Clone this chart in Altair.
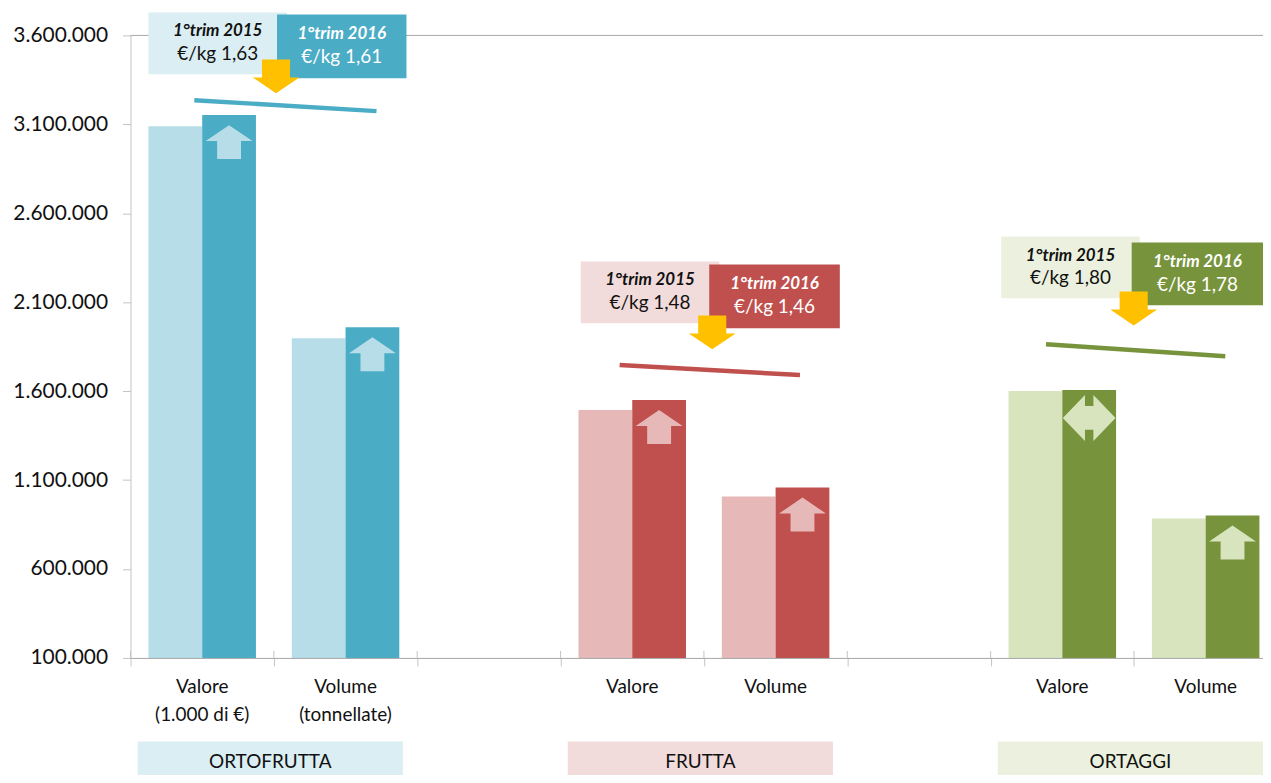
import altair as alt
import pandas as pd

# ---------------- data ----------------
measures = ["Valore", "Volume", "Valore", "Volume", "Valore", "Volume"]
measure_sub = ["(1.000 di €)", "(tonnellate)", "", "", "", ""]
groups = ["ORTOFRUTTA", "ORTOFRUTTA", "FRUTTA", "FRUTTA", "ORTAGGI", "ORTAGGI"]
slot_index = [0, 1, 3, 4, 6, 7]
values_2015 = [3090000, 1898000, 1494000, 1007000, 1601000, 884000]
values_2016 = [3152000, 1959000, 1550000, 1058000, 1606000, 901000]
change_2016 = ["up", "up", "up", "up", "stable", "up"]

group_names = ["ORTOFRUTTA", "FRUTTA", "ORTAGGI"]
group_first_slot = [0, 3, 6]
price_2015 = ["1,63", "1,48", "1,80"]
price_2016 = ["1,61", "1,46", "1,78"]

y_ticks = [100000, 600000, 1100000, 1600000, 2100000, 2600000, 3100000, 3600000]
y_tick_labels = ["100.000", "600.000", "1.100.000", "1.600.000", "2.100.000",
                 "2.600.000", "3.100.000", "3.600.000"]
x_boundaries = [0, 1, 2, 3, 4, 5, 6, 7]

# annotation placement (data units: x in category slots, y in axis units)
price_box_2015 = {"x0": [0.125, 3.141, 6.074], "x1": [1.091, 4.107, 7.040],
                  "y0": [3381600, 1981600, 2121600], "y1": [3728800, 2328800, 2468800]}
price_box_2016 = {"x0": [1.022, 4.037, 6.984], "x1": [1.925, 4.948, 7.901],
                  "y0": [3359200, 1953600, 2082400], "y1": [3717600, 2312000, 2435200]}
down_arrow_pos = {"x": [1.015, 4.058, 6.998], "y": [3370400, 1931200, 2065600]}
trend_line = {"x0": [0.445, 3.412, 6.386], "x1": [1.716, 4.670, 7.637],
              "y0": [3236000, 1746400, 1864000], "y1": [3174400, 1690400, 1796800]}

# ---------------- styles ----------------
dark = {"ORTOFRUTTA": "#4BACC6", "FRUTTA": "#C0504D", "ORTAGGI": "#77933C"}
light = {"ORTOFRUTTA": "#B7DEE8", "FRUTTA": "#E6B9B8", "ORTAGGI": "#D7E4BD"}
pale = {"ORTOFRUTTA": "#DAEEF3", "FRUTTA": "#F2DCDB", "ORTAGGI": "#EBF1DE"}
FONT = "Lato"
AXIS_GRAY = "#A6A6A6"
LIGHT_GRAY = "#C4C4C4"
TXT = "#111111"

W, H = 1137, 625
XMAX = 7.9

xs = alt.Scale(domain=[0, XMAX], nice=False, zero=False)
ys = alt.Scale(domain=[100000, 3600000], nice=False, zero=False)

# ---------------- tables ----------------
rows = []
for m, g, s, a, b in zip(measures, groups, slot_index, values_2015, values_2016):
    rows.append(dict(measure=m, group=g, slot=s, year="2015", value=a))
    rows.append(dict(measure=m, group=g, slot=s, year="2016", value=b))
bars_df = pd.DataFrame(rows)

keys, key_colors = [], []
for g in group_names:
    keys += [g + "|2015", g + "|2016"]
    key_colors += [light[g], dark[g]]

arrows_df = pd.DataFrame(dict(group=groups, slot=slot_index, value=values_2016, change=change_2016))
cat_df = pd.DataFrame(dict(slot=slot_index,
                           label=[m + ("\n" + s if s else "") for m, s in zip(measures, measure_sub)]))

price_rows = []
for i, g in enumerate(group_names):
    price_rows.append(dict(group=g, year="2015", key=g + "|2015p",
                           x0=price_box_2015["x0"][i], x1=price_box_2015["x1"][i],
                           y0=price_box_2015["y0"][i], y1=price_box_2015["y1"][i],
                           l1="1°trim 2015", l2="€/kg " + price_2015[i]))
    price_rows.append(dict(group=g, year="2016", key=g + "|2016p",
                           x0=price_box_2016["x0"][i], x1=price_box_2016["x1"][i],
                           y0=price_box_2016["y0"][i], y1=price_box_2016["y1"][i],
                           l1="1°trim 2016", l2="€/kg " + price_2016[i]))
price_df = pd.DataFrame(price_rows)
pkeys = [g + "|2015p" for g in group_names] + [g + "|2016p" for g in group_names]
pcolors = [pale[g] for g in group_names] + [dark[g] for g in group_names]

down_df = pd.DataFrame(dict(group=group_names, x=down_arrow_pos["x"], y=down_arrow_pos["y"]))
trend_df = pd.DataFrame(dict(group=group_names, x0=trend_line["x0"], x1=trend_line["x1"],
                             y0=trend_line["y0"], y1=trend_line["y1"]))
groups_df = pd.DataFrame(dict(group=group_names, first=group_first_slot))
bound_df = pd.DataFrame(dict(b=x_boundaries))

# ---------------- axis label expression (y) ----------------
expr = "''"
for v, lab in zip(y_ticks, y_tick_labels):
    expr = f"datum.value == {v} ? '{lab}' : ({expr})"
y_label_expr = expr


def X(field):
    return alt.X(field, scale=xs, title=None)


def Y(field):
    return alt.Y(field, scale=ys, title=None)


# ---------------- layers ----------------
bars = alt.Chart(bars_df).transform_calculate(
    x0="datum.slot + (datum.year == '2015' ? 0.125 : 0.5)",
    x1="datum.slot + (datum.year == '2015' ? 0.5 : 0.875)",
    key="datum.group + '|' + datum.year",
    base="100000",
).mark_rect().encode(
    x=alt.X("x0:Q", scale=xs, title=None,
            axis=alt.Axis(values=x_boundaries, labels=False, tickSize=8,
                          domainColor=AXIS_GRAY, tickColor=LIGHT_GRAY, grid=False,
                          title=None, zindex=1)),
    x2="x1:Q",
    y=alt.Y("value:Q", scale=ys, title=None,
            axis=alt.Axis(values=y_ticks, labelExpr=y_label_expr, tickSize=8,
                          labelPadding=15, labelFontSize=21, labelFont=FONT,
                          labelColor=TXT, domainColor=LIGHT_GRAY, tickColor=LIGHT_GRAY,
                          grid=False, title=None)),
    y2="base:Q",
    color=alt.Color("key:N", scale=alt.Scale(domain=keys, range=key_colors), legend=None),
)

# upper half of the category ticks (they cross the x axis)
tick_up = alt.Chart(bound_df).mark_rule(color=LIGHT_GRAY, strokeWidth=1).encode(
    x=X("b:Q"), y=alt.value(H - 7), y2=alt.value(H),
)

top_rule = alt.Chart(pd.DataFrame({"v": [3600000]})).mark_rule(
    color=AXIS_GRAY, strokeWidth=1
).encode(y=Y("v:Q"))

cat_text = alt.Chart(cat_df).transform_calculate(xc="datum.slot + 0.5").mark_text(
    font=FONT, fontSize=19, color=TXT, baseline="middle", lineBreak="\n", lineHeight=28
).encode(
    x=X("xc:Q"), y=alt.value(H + 29), text="label:N",
)

UP_PATH = "M0,-0.72 L1,-0.04 L0.51,-0.04 L0.51,0.73 L-0.51,0.73 L-0.51,-0.04 L-1,-0.04 Z"
BOTH_PATH = ("M-1,0 L-0.16,-0.87 L-0.16,-0.45 L0.16,-0.45 L0.16,-0.87 L1,0 "
             "L0.16,0.87 L0.16,0.45 L-0.16,0.45 L-0.16,0.87 Z")
DOWN_PATH = "M-0.6,-0.72 L0.6,-0.72 L0.6,0.05 L1,0.05 L0,0.73 L-1,0.05 L-0.6,0.05 Z"

light_scale = alt.Scale(domain=group_names, range=[light[g] for g in group_names])

inner_base = alt.Chart(arrows_df).transform_calculate(xc="datum.slot + 0.6875")
inner_up = inner_base.transform_filter("datum.change == 'up'").mark_point(
    shape=UP_PATH, size=47 * 47, filled=True, opacity=1, strokeWidth=0, yOffset=27
).encode(
    x=X("xc:Q"), y=Y("value:Q"),
    color=alt.Color("group:N", scale=light_scale, legend=None),
)
inner_both = inner_base.transform_filter("datum.change == 'stable'").mark_point(
    shape=BOTH_PATH, size=53 * 53, filled=True, opacity=1, strokeWidth=0, yOffset=28
).encode(
    x=X("xc:Q"), y=Y("value:Q"),
    color=alt.Color("group:N", scale=light_scale, legend=None),
)

trend = alt.Chart(trend_df).mark_rule(strokeWidth=4.5).encode(
    x=X("x0:Q"), x2="x1:Q", y=Y("y0:Q"), y2="y1:Q",
    color=alt.Color("group:N", scale=alt.Scale(domain=group_names,
                    range=[dark[g] for g in group_names]), legend=None),
)

pscale = alt.Scale(domain=pkeys, range=pcolors)
pbox15 = alt.Chart(price_df).transform_filter("datum.year == '2015'").mark_rect().encode(
    x=X("x0:Q"), x2="x1:Q", y=Y("y0:Q"), y2="y1:Q",
    color=alt.Color("key:N", scale=pscale, legend=None),
)
pbox16 = alt.Chart(price_df).transform_filter("datum.year == '2016'").mark_rect().encode(
    x=X("x0:Q"), x2="x1:Q", y=Y("y0:Q"), y2="y1:Q",
    color=alt.Color("key:N", scale=pscale, legend=None),
)
ptext_base = alt.Chart(price_df).transform_calculate(
    xc="(datum.x0 + datum.x1) / 2", yc="(datum.y0 + datum.y1) / 2",
    tc="datum.year == '2015' ? '#111111' : '#FFFFFF'",
)
ptext1 = ptext_base.mark_text(font=FONT, fontSize=17, fontWeight="bold", fontStyle="italic",
                              dy=-12, baseline="middle").encode(
    x=X("xc:Q"), y=Y("yc:Q"), text="l1:N", color=alt.Color("tc:N", scale=None),
)
ptext2 = ptext_base.mark_text(font=FONT, fontSize=19, dy=11, baseline="middle").encode(
    x=X("xc:Q"), y=Y("yc:Q"), text="l2:N", color=alt.Color("tc:N", scale=None),
)

down = alt.Chart(down_df).mark_point(
    shape=DOWN_PATH, size=47 * 47, filled=True, opacity=1, strokeWidth=0, color="#FFC000"
).encode(x=X("x:Q"), y=Y("y:Q"))

gscale = alt.Scale(domain=group_names, range=[pale[g] for g in group_names])
gbox = alt.Chart(groups_df).transform_calculate(
    gx0="datum.first + 0.05", gx1="datum.first + 1.9"
).mark_rect().encode(
    x=X("gx0:Q"), x2="gx1:Q",
    y=alt.value(H + 84), y2=alt.value(H + 124),
    color=alt.Color("group:N", scale=gscale, legend=None),
)
gtext = alt.Chart(groups_df).transform_calculate(gxc="datum.first + 0.975").mark_text(
    font=FONT, fontSize=19, color=TXT, baseline="middle"
).encode(
    x=X("gxc:Q"), y=alt.value(H + 104), text="group:N",
)

chart = alt.layer(
    bars, tick_up, top_rule, cat_text, inner_up, inner_both, trend, pbox15, pbox16,
    ptext1, ptext2, down, gbox, gtext
).resolve_scale(color="independent").properties(
    width=W, height=H,
    autosize=alt.AutoSizeParams(type="none"),
    padding={"left": 123, "top": 26, "right": 0, "bottom": 116},
).configure_view(stroke=None)

chart.save("out.html", embed_options={"renderer": "svg", "actions": False})
